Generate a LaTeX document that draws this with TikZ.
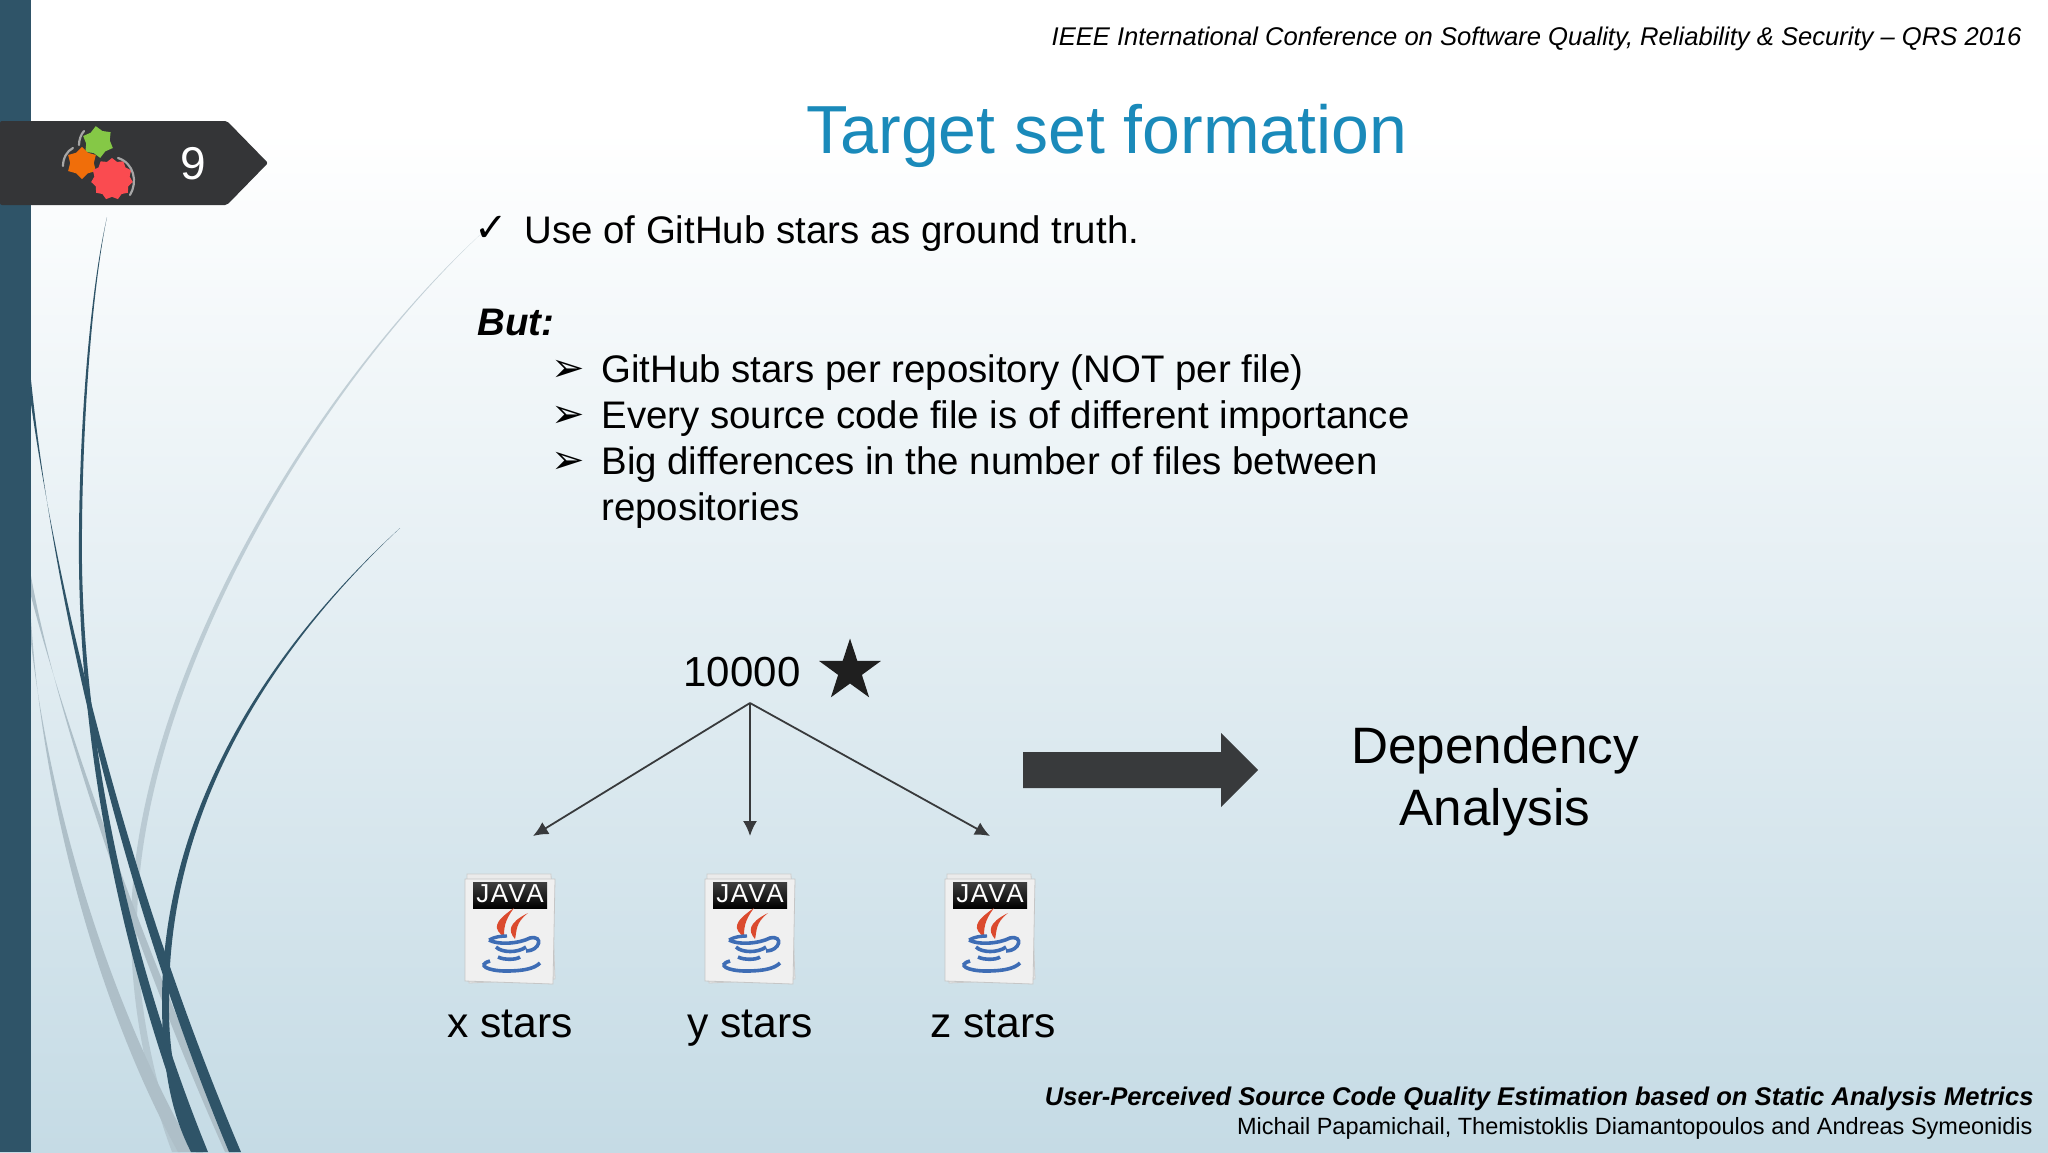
\documentclass[tikz,border=0pt]{standalone}
\usepackage{fontspec}
\setmainfont{Liberation Sans}
\newfontfamily\symfont{DejaVu Sans}
\usetikzlibrary{shapes.geometric,arrows.meta}
\definecolor{bar}{HTML}{2F5468}
\definecolor{ink}{HTML}{383A3C}
\definecolor{bottomblue}{HTML}{C5DBE5}
\definecolor{ghost}{HTML}{AEBFC8}
\definecolor{titleblue}{HTML}{1A8ABA}
\definecolor{cupblue}{HTML}{3E6DB5}
\definecolor{steamred}{HTML}{DB4A2E}
\tikzset{
  x=0.5pt,y=-0.5pt,
  body/.style={anchor=base west,inner sep=0pt,font=\fontsize{19.2}{24}\selectfont,text=black},
  centered/.style={anchor=base,inner sep=0pt,text=black},
  bulletmark/.style={anchor=center,inner sep=0pt,font=\symfont\fontsize{20}{22}\selectfont,text=black},
  rightbase/.style={anchor=base east,inner sep=0pt,text=black},
  gear/.style={star,draw=none,inner sep=0pt,minimum size=#1},
  gearline/.style={draw=gray!70,line width=1.1pt,line cap=round},
  treeline/.style={draw=ink,line width=0.9pt,-{Latex[length=7.5pt,width=7pt]}},
  pics/javaicon/.style={code={
    \fill[black!8,draw=gray!40,line width=0.4pt] (-43,-55) -- (41,-55) -- (45,50) -- (-41,54) -- cycle;
    \fill[black!6,draw=gray!45,line width=0.4pt] (-45,-50) -- (45,-50) -- (43,55) -- (-45,52) -- cycle;
    \shade[top color=black!75,bottom color=black] (-37,-47) rectangle (37,-21);
    \node[inner sep=0pt,text=white,font=\fontsize{13}{14}\selectfont] (-label) at (0,-35) {J\kern0.8pt A\kern0.2pt V\kern0.2pt A};
    \fill[steamred] (4,-21) .. controls (-18,-6) and (-16,0) .. (-6,8) .. controls (-6,0) and (-6,-8) .. cycle;
    \fill[steamred] (18,-16) .. controls (-2,-6) and (-2,2) .. (5,10) .. controls (7,2) and (5,-6) .. cycle;
    \draw[cupblue,line width=1.7pt] (-21,11) .. controls (-14,7) and (-6,7) .. (-3,7);
    \draw[cupblue,line width=1.8pt] (-21,11) .. controls (-12,16) and (8,15) .. (20,9) .. controls (34,6) and (30,22) .. (16,22);
    \draw[cupblue,line width=1.8pt] (-14,18) .. controls (-8,24) and (8,24) .. (16,18);
    \draw[cupblue,line width=1.8pt] (-12,28) .. controls (-6,31) and (6,31) .. (10,28);
    \draw[cupblue,line width=1.8pt] (-20,32) .. controls (-34,36) and (-22,42) .. (-4,42) .. controls (12,42) and (24,40) .. (30,34);
  }}
}
\begin{document}
\begin{tikzpicture}
\useasboundingbox (0,0) rectangle (2048,1152);
\clip (0,0) rectangle (2048,1152);
% background
\fill[white] (0,0) rectangle (2048,140);
\shade[top color=white,bottom color=bottomblue] (0,130) rectangle (2048,1152);
% grey swooshes
\fill[ghost,opacity=.7] (483,232) .. controls (300,400) and (130,700) .. (131,929) .. controls (131,1000) and (145,1080) .. (172,1152) -- (180,1152) .. controls (152,1080) and (138,1000) .. (137,929) .. controls (136,700) and (302,402) .. (483,232) -- cycle;
\fill[ghost] (31,576) .. controls (52,695) and (126,930) .. (225,1152) -- (235,1152) .. controls (135,930) and (59,705) .. (31,596) -- cycle;
\fill[ghost] (31,619) .. controls (42,795) and (95,1000) .. (178,1152) -- (194,1152) .. controls (107,1000) and (50,805) .. (31,643) -- cycle;
% dark swooshes
\fill[bar] (31,380) .. controls (55,610) and (124,900) .. (229,1152) -- (241,1152) .. controls (134,900) and (62,620) .. (31,404) -- cycle;
\fill[bar] (107,217) .. controls (88,300) and (78,450) .. (79,564) .. controls (81,760) and (124,970) .. (196,1152) -- (208,1152) .. controls (134,970) and (85,760) .. (82,564) .. controls (81,450) and (90,300) .. (107,217) -- cycle;
\fill[bar] (400,528) .. controls (279,639) and (163,800) .. (162,1001) .. controls (162,1070) and (172,1115) .. (191,1152) -- (203,1152) .. controls (184,1115) and (168,1070) .. (169,1001) .. controls (168,800) and (281,640) .. (400,528) -- cycle;
% side bar
\fill[bar] (0,0) rectangle (31,1152);
% number ribbon
\fill[ink!92!black,rounded corners=1pt] (0,121) -- (227,121) -- (268,163) -- (227,205) -- (0,205) -- cycle;
\node[gear=16,star points=6,star point ratio=1.35,fill={rgb,255:red,133;green,200;blue,70},rotate=8] (greengear) at (98,142) {};
\node[gear=16,star points=6,star point ratio=1.35,fill={rgb,255:red,240;green,110;blue,10},rotate=0] (orangegear) at (82,163) {};
\node[gear=21,star points=11,star point ratio=1.18,fill={rgb,255:red,250;green,75;blue,80}] (redgear) at (112,179) {};
\draw[gearline] (118,158) .. controls (134,163) and (138,182) .. (130,195);
\draw[gearline] (73,148) .. controls (67,151) and (63,158) .. (63,166);
\draw[gearline] (84,131) .. controls (81,134) and (79,140) .. (79,145);
\node[anchor=center,inner sep=0pt,text=white,font=\fontsize{23}{26}\selectfont] (pagenum) at (193,164) {9};
% header and title
\node[rightbase,font=\fontsize{12.8}{16}\selectfont\itshape] (header) at (2022,45) {IEEE International Conference on Software Quality, Reliability \& Security – QRS 2016};
\node[centered,text=titleblue,font=\fontsize{34}{40}\selectfont] (title) at (1107,153) {Target set formation};
% body
\node[bulletmark] (check) at (491,229) {✓};
\node[body] (use) at (524,243) {Use of GitHub stars as ground truth.};
\node[body,font=\fontsize{19.2}{24}\selectfont\bfseries\itshape] (but) at (477,335) {But:};
\node[bulletmark] (m1) at (568,371) {➢};
\node[body] (l1) at (601,382) {GitHub stars per repository (NOT per file)};
\node[bulletmark] (m2) at (568,417) {➢};
\node[body] (l2) at (601,428) {Every source code file is of different importance};
\node[bulletmark] (m3) at (568,463) {➢};
\node[body] (l3) at (601,474) {Big differences in the number of files between};
\node[body] (l4) at (601,520) {repositories};
% tree
\node[centered,font=\fontsize{21}{26}\selectfont] (count) at (742,686) {10000};
\node[star,star points=5,star point ratio=2.6,fill=black!88,draw=none,inner sep=0pt,minimum size=32.5] (bigstar) at (850,671) {};
\coordinate (apex) at (750,703);
\coordinate (tipx) at (533,836);
\coordinate (tipy) at (750,836);
\coordinate (tipz) at (990,836);
\draw[treeline] (apex) -- (tipx);
\draw[treeline] (apex) -- (tipy);
\draw[treeline] (apex) -- (tipz);
\pic (jx) at (510,929) {javaicon};
\pic (jy) at (750,929) {javaicon};
\pic (jz) at (990,929) {javaicon};
\node[centered,font=\fontsize{21.3}{24}\selectfont] (xs) at (510,1037) {x stars};
\node[centered,font=\fontsize{21.3}{24}\selectfont] (ys) at (750,1037) {y stars};
\node[centered,font=\fontsize{21.3}{24}\selectfont] (zs) at (993,1037) {z stars};
% big arrow
\fill[ink] (1023,752) -- (1221,752) -- (1221,733) -- (1258,770) -- (1221,807) -- (1221,788) -- (1023,788) -- cycle;
\node[centered,font=\fontsize{25.6}{30}\selectfont] (dep) at (1495,763) {Dependency};
\node[centered,font=\fontsize{25.6}{30}\selectfont] (ana) at (1495,825) {Analysis};
% footer
\node[rightbase,font=\fontsize{12.8}{16}\selectfont\bfseries\itshape] (f1) at (2034,1105) {User-Perceived Source Code Quality Estimation based on Static Analysis Metrics};
\node[rightbase,font=\fontsize{11.75}{15}\selectfont] (f2) at (2033,1134) {Michail Papamichail, Themistoklis Diamantopoulos and Andreas Symeonidis};
\end{tikzpicture}
\end{document}
